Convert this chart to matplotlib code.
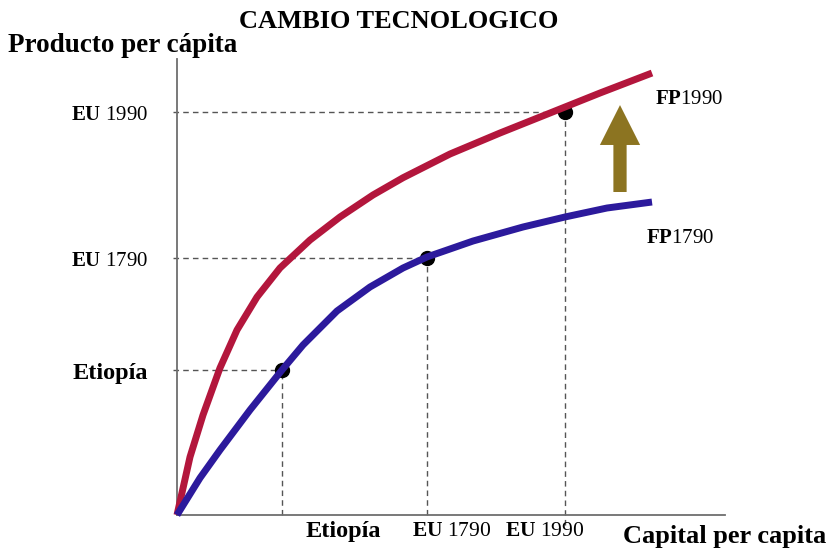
import matplotlib
matplotlib.use("Agg")
from matplotlib import pyplot as plt

plt.rcParams['font.family'] = 'Liberation Serif'
plt.rcParams['mathtext.fontset'] = 'custom'
plt.rcParams['mathtext.rm'] = 'Liberation Serif'
plt.rcParams['mathtext.bf'] = 'Liberation Serif:bold'

# production function points (capital, output)
k_1990 = [0.0, 0.236, 0.472, 0.780, 1.089, 1.452, 1.869, 2.414, 2.958, 3.557,
          4.102, 4.955, 5.862, 6.770, 7.677, 8.621]
y_1990 = [0.0, 1.221, 2.105, 3.095, 3.895, 4.589, 5.200, 5.789, 6.274, 6.737,
          7.100, 7.600, 8.042, 8.463, 8.884, 9.305]
k_1790 = [0.0, 0.417, 0.780, 1.325, 1.906, 2.287, 2.904, 3.503, 4.102, 4.537,
          4.955, 5.372, 6.279, 7.042, 7.804, 8.621]
y_1790 = [0.0, 0.779, 1.368, 2.211, 3.053, 3.579, 4.295, 4.800, 5.200, 5.432,
          5.600, 5.768, 6.063, 6.274, 6.463, 6.589]

# economies: (capital, output)
econ_names = ['Etiopía', 'EU 1790', 'EU 1990']
econ_k = [1.91, 4.54, 7.04]
econ_y = [3.05, 5.41, 8.48]

# technological shift arrow
arrow_k = 8.04
arrow_from = 6.80
arrow_to = 8.63

W, H = 830, 555

def px(x, y):
    return x / W, 1 - y / H

def label(name):
    # "EU" bold, year in regular weight
    if name.startswith('EU'):
        return r'$\mathbf{EU}$' + ' ' + name.split()[1]
    return name

fig = plt.figure(figsize=(W / 100, H / 100), dpi=100)
ax = fig.add_axes([177 / W, 1 - 515 / H, 551 / W, 475 / H])
ax.set_xlim(0, 10)
ax.set_ylim(0, 10)
for s in ['top', 'right']:
    ax.spines[s].set_visible(False)
for s in ['left', 'bottom']:
    ax.spines[s].set_color('#6e6e6e')
    ax.spines[s].set_linewidth(1.3)
ax.spines['bottom'].set_bounds(0, 9.95)
ax.spines['left'].set_bounds(0, 9.6)
ax.set_xticks([])
ax.set_yticks([])

# guide lines
for k, y in zip(econ_k, econ_y):
    ax.plot([-0.07, k], [y, y], color='#555555', lw=1, dashes=(4, 3), clip_on=False)
    ax.plot([k, k], [-0.2 if k > 7 else 0, y], color='#555555', lw=1, dashes=(4, 3), clip_on=False)

ax.plot(k_1990, y_1990, color='#b3163c', lw=5, solid_capstyle='butt',
        solid_joinstyle='round', clip_on=False, zorder=3)
ax.plot(k_1790, y_1790, color='#2c1a9c', lw=5, solid_capstyle='butt',
        solid_joinstyle='round', clip_on=False, zorder=3)
ax.plot(econ_k, econ_y, 'o', color='black', ms=10, zorder=2)

ax.arrow(arrow_k, arrow_from, 0, arrow_to - arrow_from, width=0.24, head_width=0.73,
         head_length=0.84, length_includes_head=True, color='#8c7421', lw=0)

# texts
fig.text(*px(399, 21), 'CAMBIO TECNOLOGICO', ha='center', va='center', fontsize=19, fontweight='bold')
fig.text(*px(8, 46), 'Producto per cápita', ha='left', va='center', fontsize=19.5, fontweight='bold')
fig.text(*px(623, 536), 'Capital per capita', ha='left', va='center', fontsize=19, fontweight='bold')

ylab_y = [373, 261, 116]
for name, yy in zip(econ_names, ylab_y):
    fig.text(*px(148, yy), label(name), ha='right', va='center',
             fontsize=17.5 if name == 'Etiopía' else 15,
             fontweight='bold' if name == 'Etiopía' else 'normal')

xlab_x = [343, 452, 545]
for name, xx in zip(econ_names, xlab_x):
    fig.text(*px(xx, 532), label(name), ha='center', va='center',
             fontsize=17.5 if name == 'Etiopía' else 15.5,
             fontweight='bold' if name == 'Etiopía' else 'normal')

fig.text(*px(655, 100), r'$\mathbf{FP}$1990', ha='left', va='center', fontsize=15)
fig.text(*px(646, 238), r'$\mathbf{FP}$1790', ha='left', va='center', fontsize=15)

plt.savefig('out.png', dpi=100)
plt.close()
